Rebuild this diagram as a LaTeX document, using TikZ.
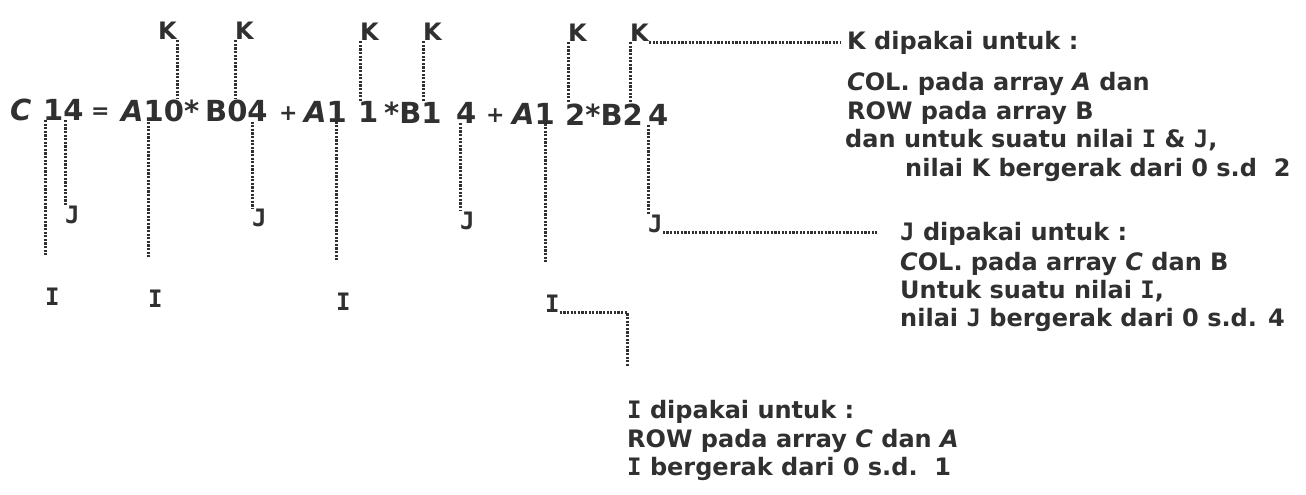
\documentclass[tikz,border=0pt]{standalone}
\usepackage{fontspec}
\setmainfont{DejaVu Sans}
\newfontfamily\monofnt{DejaVu Sans Mono}
\newcommand\Ii{{\monofnt\bfseries I}}
\newcommand\Jj{{\monofnt\bfseries J}}
\definecolor{ink}{HTML}{303030}
\begin{document}
\begin{tikzpicture}[x=1pt,y=-1pt,
  every node/.style={inner sep=0pt,text=ink},
  eqn/.style={font=\fontsize{29}{36}\selectfont\bfseries,anchor=base west},
  opr/.style={font=\fontsize{22}{26}\selectfont\bfseries,anchor=base west},
  lbl/.style={font=\fontsize{24}{30}\selectfont\bfseries,anchor=base west},
  txt/.style={font=\fontsize{24}{29}\selectfont\bfseries,anchor=base west},
  dl/.style={draw=ink,line width=3pt,dash pattern=on 2.2pt off 1.4pt}]
\fill[white] (0,0) rectangle (1306,495);
\useasboundingbox (0,0) rectangle (1306,495);
% equation
\node[eqn] (c)   at (10,120)  {\textit{C}};
\node[eqn] (n14) at (43,120)  {14};
\node[opr] (eq)  at (91,118)  {=};
\node[eqn] (a10) at (121,121) {\textit{A}10*};
\node[eqn] (b04) at (205,121) {B04};
\node[opr] (p1)  at (279,120) {+};
\node[eqn] (a11) at (304,122) {\textit{A}1};
\node[eqn] (one) at (358,122) {1};
\node[eqn] (b1)  at (384,123) {*B1};
\node[eqn] (f1)  at (456,123) {4};
\node[opr] (p2)  at (486,122) {+};
\node[eqn] (a12) at (512,124) {\textit{A}1};
\node[eqn] (b22) at (565,125) {2*B2};
\node[eqn] (f2)  at (648,125) {4};
% K labels
\node[lbl] (k1) at (158,40) {K};
\node[lbl] (k2) at (235,40) {K};
\node[lbl] (k3) at (360,41) {K};
\node[lbl] (k4) at (423,41) {K};
\node[lbl] (k5) at (568,42) {K};
\node[lbl] (k6) at (630,42) {K};
% J labels
\node[lbl] (j1) at (65,223)  {\Jj};
\node[lbl] (j2) at (252,226) {\Jj};
\node[lbl] (j3) at (460,229) {\Jj};
\node[lbl] (j4) at (648,232) {\Jj};
% I labels
\node[lbl] (i1) at (45,305)  {\Ii};
\node[lbl] (i2) at (148,307) {\Ii};
\node[lbl] (i3) at (336,310) {\Ii};
\node[lbl] (i4) at (545,312) {\Ii};
% text blocks
\node[txt] (kt1) at (847,50)  {K dipakai untuk :};
\node[txt] (kt2) at (847,90)  {\textit{C}OL. pada array \textit{A} dan};
\node[txt] (kt3) at (847,119) {ROW pada array B};
\node[txt] (kt4) at (845,147) {dan untuk suatu nilai \Ii\ \& \Jj,};
\node[txt] (kt5) at (905,176) {nilai K bergerak dari 0 s.d\ \ 2};
\node[txt] (jt1) at (900,240) {\Jj\ dipakai untuk :};
\node[txt] (jt2) at (900,270) {\textit{C}OL. pada array \textit{C} dan B};
\node[txt] (jt3) at (900,298) {Untuk suatu nilai \Ii,};
\node[txt] (jt4) at (900,326) {nilai \Jj\ bergerak dari 0 s.d. 4};
\node[txt] (it1) at (627,418) {\Ii\ dipakai untuk :};
\node[txt] (it2) at (627,447) {ROW pada array \textit{C} dan \textit{A}};
\node[txt] (it3) at (627,475) {\Ii\ bergerak dari 0 s.d.\ \ 1};
% K connectors
\draw[dl] (k1.south east) -- (k1.south east |- a10.north);
\draw[dl] (k2.south west) -- (k2.south west |- b04.north);
\draw[dl] (k3.south west) -- (k3.south west |- one.north);
\draw[dl] (k4.south west) -- (k4.south west |- b1.north);
\draw[dl] (k5.south west) -- (k5.south west |- b22.north);
\draw[dl] (k6.south west) -- (k6.south west |- b22.north);
\draw[dl,shorten >=7pt] (k6.south east) -- (k6.south east -| kt1.west);
% J connectors
\draw[dl] (j1.north west |- n14.south) -- (j1.north west);
\draw[dl] (j2.north west |- b04.south) -- (j2.north west);
\draw[dl] (j3.north west |- f1.south) -- (j3.north west);
\draw[dl] (j4.north west |- f2.south) -- (j4.north west);
\draw[dl,shorten >=22pt] (j4.south east) -- (j4.south east -| jt1.west);
% I connectors
\draw[dl] ([yshift=32pt]i1.north west) -- (i1.north west |- n14.south);
\draw[dl] ([yshift=32pt]i2.north west) -- (i2.north west |- a10.south);
\draw[dl] ([yshift=32pt]i3.north west) -- (i3.north west |- a11.south);
\draw[dl] ([yshift=32pt]i4.north west) -- (i4.north west |- a12.south);
\draw[dl] (i4.south east) -| ([yshift=34pt]it1.north west);
\end{tikzpicture}
\end{document}
